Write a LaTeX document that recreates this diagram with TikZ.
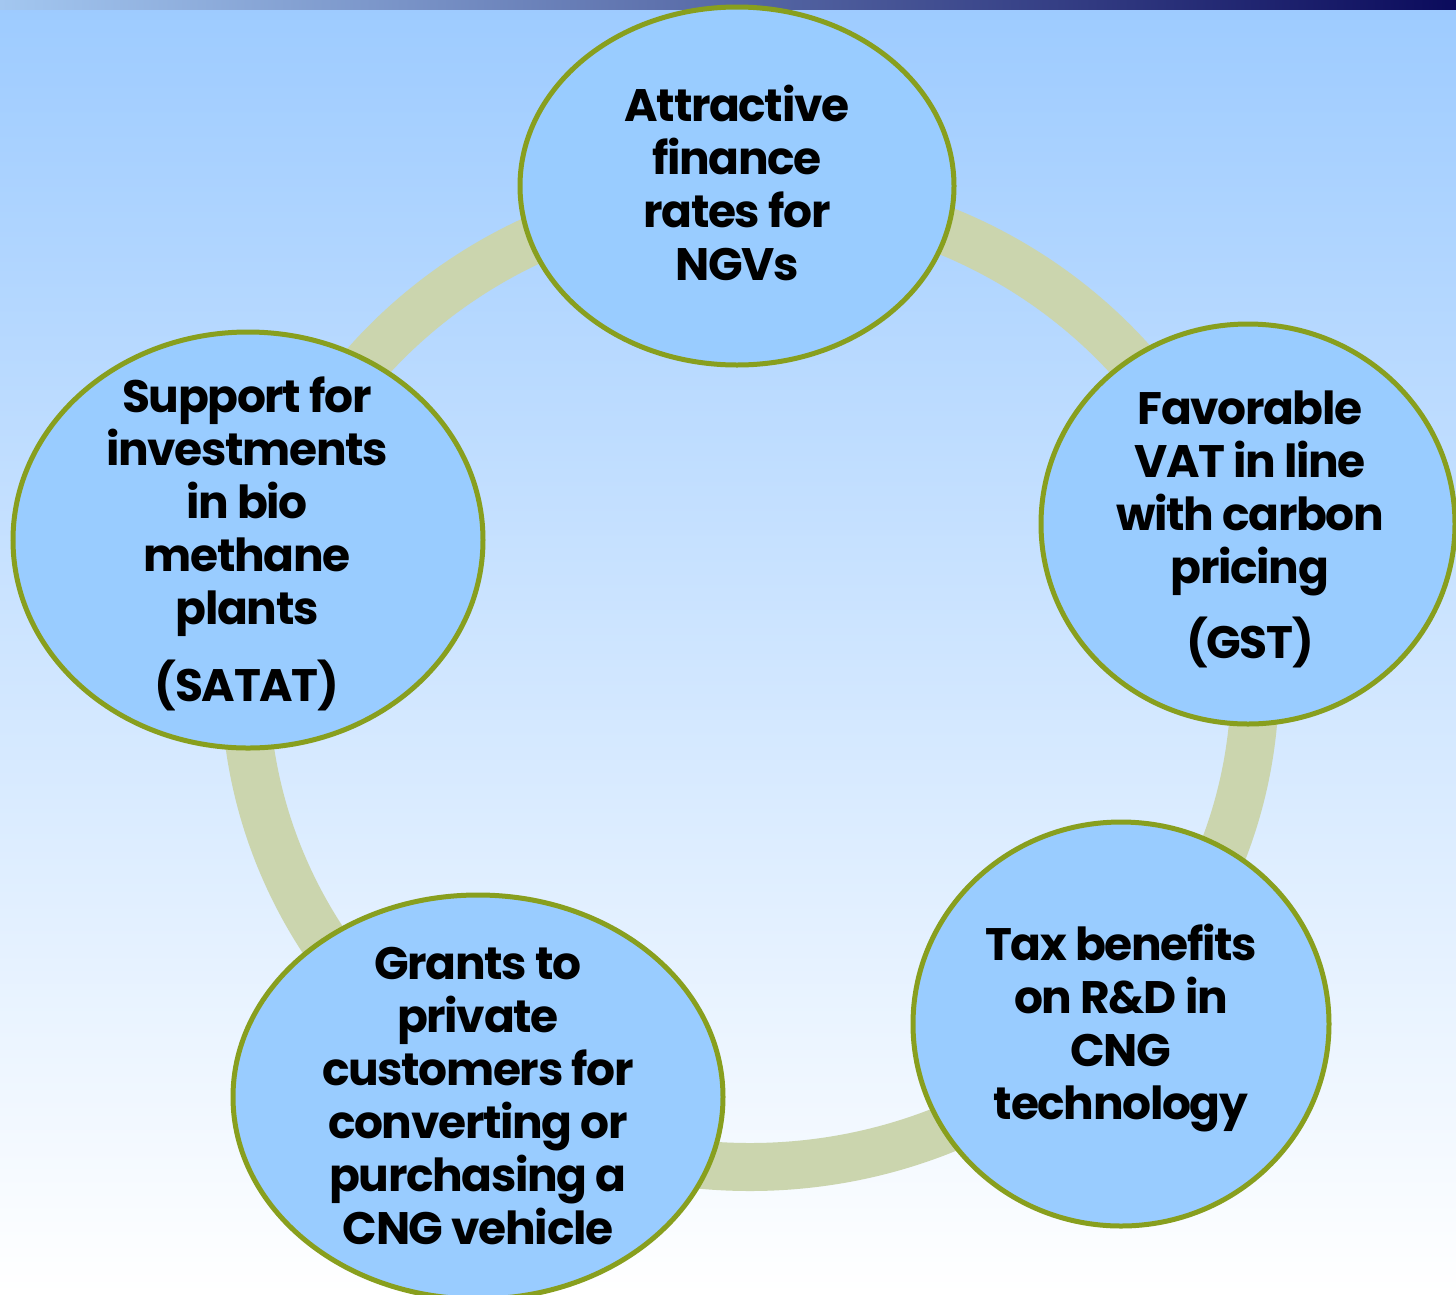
\documentclass[tikz,border=0pt]{standalone}
\usepackage{fontspec}
\setmainfont{Poppins}[LetterSpace=-3]
\usetikzlibrary{shapes.geometric}
\definecolor{bgtop}{RGB}{157,203,255}
\definecolor{barleft}{RGB}{163,199,240}
\definecolor{barright}{RGB}{11,11,92}
\definecolor{ringcol}{RGB}{203,213,174}
\definecolor{ellfill}{RGB}{153,204,255}
\definecolor{ellborder}{RGB}{136,159,30}
\tikzset{
  bubble/.style={draw=ellborder, line width=5pt, fill=ellfill, ellipse, inner sep=0pt},
  bubbletext/.style={align=center, font=\bfseries\fontsize{45.5}{53}\selectfont, text=black, inner sep=0pt},
}
\begin{document}
\begin{tikzpicture}[x=1pt,y=-1pt]
\useasboundingbox (0,0) rectangle (1456,1294);
% background
\shade[top color=bgtop, bottom color=white] (0,0) rectangle (1456,1294);
\shade[left color=barleft, right color=barright] (0,0) rectangle (1456,9);
% ring
\draw[ringcol, line width=48pt] (750,680) ellipse [x radius=505pt, y radius=487pt];
% bubbles
\node[bubble, minimum width=434pt, minimum height=358pt] (n1) at (737,186) {};
\node[bubble, minimum width=414pt, minimum height=400pt] (n2) at (1248,524) {};
\node[bubble, minimum width=416pt, minimum height=404pt] (n3) at (1121,1024) {};
\node[bubble, minimum width=490pt, minimum height=404pt] (n4) at (478,1097) {};
\node[bubble, minimum width=470pt, minimum height=416pt] (n5) at (248,540) {};
% texts
\node[bubbletext] (t1) at (737,183) {Attractive\\finance\\rates for\\NGVs};
\node[bubbletext] (t2) at (1250,529) {Favorable\\VAT in line\\with carbon\\pricing\\[20pt](GST)};
\node[bubbletext] (t3) at (1121,1028) {Tax benefits\\on R\&D in\\CNG\\technology};
\node[bubbletext] (t4) at (478,1096) {Grants to\\private\\customers for\\converting or\\purchasing a\\CNG vehicle};
\node[bubbletext] (t5) at (247,544) {Support for\\investments\\in bio\\methane\\plants\\[22pt](SATAT)};
\end{tikzpicture}
\end{document}
